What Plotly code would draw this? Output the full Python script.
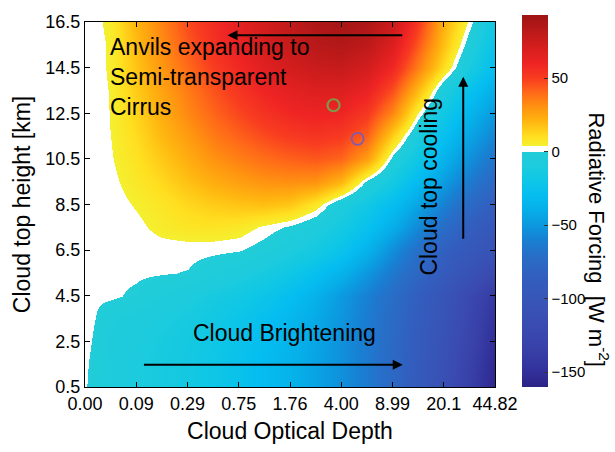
import plotly.graph_objects as go

# Grid: optical-depth bin index (x) and cloud-top height in km (y)
tau_index = [0.0, 0.5, 1.0, 1.5, 2.0, 2.5, 3.0, 3.5, 4.0, 4.5, 5.0, 5.5, 6.0, 6.5, 7.0, 7.5, 8.0]
cth_km = [0.5, 1.5, 2.5, 3.5, 4.5, 5.5, 6.5, 7.5, 8.5, 9.5, 10.5, 11.5, 12.5, 13.5, 14.5, 15.5, 16.5]

# Radiative forcing [W m-2], one row per cloud-top height (bottom to top)
rf_rows = [
    [0.5, -7, -10, -13, -16, -20, -25, -31, -37, -45, -53, -63, -76, -92, -112, -135, -158],
    [1, -7, -10, -13, -16, -20, -25, -31, -37, -45, -53, -63, -76, -91, -110, -132, -156],
    [2, -6, -9, -12, -15, -19, -24, -30, -36, -44, -53, -63, -75, -90, -108, -128, -152],
    [2.5, -4, -7, -10, -13, -17, -22, -28, -34, -42, -51, -62, -74, -88, -105, -125, -148],
    [1, 0.8, -1, -5, -9, -13, -17, -22, -29, -38, -49, -60, -72, -86, -102, -122, -142],
    [0.5, 1.0, 0.8, 0.4, -0.3, -4, -8, -13, -19, -27, -37, -50, -64, -78, -92, -106, -122],
    [0, 0.8, 1.2, 1.6, 1.6, 1.2, 0.5, -3, -9, -15, -24, -37, -54, -70, -84, -96, -106],
    [0, 0.8, 2.5, 6, 8, 8.5, 7, 3, -1, -7, -15, -26, -40, -56, -72, -86, -97],
    [0, 1.5, 4.5, 8, 12, 15, 17, 18, 16, 7, -8, -18, -30, -45, -60, -75, -87],
    [0, 2.5, 7, 12, 18, 23, 27, 30, 31, 30, 21, -2, -16, -32, -48, -63, -77],
    [0, 3.5, 9, 16, 23, 30, 35, 39, 42, 44, 41, 27, -3, -20, -37, -53, -67],
    [0, 4.1, 11, 20, 28, 36, 42, 47, 51, 53, 51, 42, 14, -10, -28, -44, -58],
    [0, 4.3, 13, 23, 33, 41, 48, 54, 59, 61, 60, 52, 33, 4, -18, -35, -50],
    [0, 4.5, 15, 26, 36, 45, 53, 60, 65, 68, 68, 62, 46, 20, -8, -25, -40],
    [0, 5, 17, 29, 40, 50, 58, 66, 72, 76, 77, 72, 58, 35, 10, -12, -30],
    [0, 5, 19, 32, 44, 54, 63, 71, 78, 83, 85, 81, 68, 44, 18, -4, -24],
    [0, 6, 21, 34, 47, 56, 65, 73, 80, 87, 90, 87, 76, 52, 22, 3, -18],
]

# Axis tick labels
tau_ticks = [0, 1, 2, 3, 4, 5, 6, 7, 8]
tau_labels = ["0.00", "0.09", "0.29", "0.75", "1.76", "4.00", "8.99", "20.1", "44.82"]
cth_ticks = [0.5, 2.5, 4.5, 6.5, 8.5, 10.5, 12.5, 14.5, 16.5]
cth_labels = ["0.5", "2.5", "4.5", "6.5", "8.5", "10.5", "12.5", "14.5", "16.5"]
cbar_ticks = [50, 0, -50, -100, -150]

# Highlighted cases (optical-depth index, height km)
case_a = (4.85, 12.85)
case_b = (5.32, 11.38)

RF_MIN, RF_MAX = -160.0, 93.0
WHITE_TOP = 4.0  # near-neutral band drawn in white


def frac(v):
    return (v - RF_MIN) / (RF_MAX - RF_MIN)


neg_stops = [
    (-160, "#2d2386"), (-150, "#32309a"), (-135, "#3840a8"), (-120, "#3a4ab0"),
    (-100, "#3756b8"), (-85, "#325fbf"), (-70, "#276fc8"), (-60, "#1880d2"),
    (-50, "#0c98de"), (-40, "#06aee8"), (-30, "#05bdf0"), (-20, "#0ec6e6"),
    (-10, "#1ccbdd"), (-0.01, "#22ccd8"),
]
pos_stops = [
    (WHITE_TOP, "#f4f030"), (10, "#ffe020"), (20, "#ffb810"), (30, "#ff9410"),
    (40, "#ff6a18"), (50, "#f83c20"), (60, "#ee2424"), (70, "#d81e1e"),
    (80, "#c01a1a"), (93, "#9e1414"),
]
colorscale = [[frac(v), c] for v, c in neg_stops]
colorscale += [[frac(0.0), "#ffffff"], [frac(WHITE_TOP - 0.01), "#ffffff"]]
colorscale += [[frac(v), c] for v, c in pos_stops]
colorscale[0][0] = 0.0
colorscale[-1][0] = 1.0

FONT = "Liberation Sans, Arial, sans-serif"

fig = go.Figure()
fig.add_trace(go.Heatmap(
    x=tau_index, y=cth_km, z=rf_rows,
    zmin=RF_MIN, zmax=RF_MAX, zsmooth="best",
    colorscale=colorscale, hoverinfo="skip",
    colorbar=dict(
        x=1.066, xanchor="left", xref="paper", xpad=0, ypad=0,
        y=0.51, yanchor="middle", len=372, lenmode="pixels",
        thickness=26, outlinewidth=0,
        tickvals=cbar_ticks, ticks="inside", ticklen=4, tickcolor="#333",
        tickfont=dict(family=FONT, size=15, color="black"),
    ),
))

fig.add_trace(go.Scatter(
    x=[case_a[0]], y=[case_a[1]], mode="markers", showlegend=False,
    marker=dict(symbol="circle-open", size=12, color="#7e9a48", line=dict(width=2.2)),
))
fig.add_trace(go.Scatter(
    x=[case_b[0]], y=[case_b[1]], mode="markers", showlegend=False,
    marker=dict(symbol="circle-open", size=12, color="#7d5cb0", line=dict(width=1.8)),
))

arrow = dict(showarrow=True, arrowhead=2, arrowsize=1, arrowwidth=2,
             arrowcolor="black", axref="x", ayref="y", xref="x", yref="y", text="")
fig.add_annotation(x=2.78, y=15.92, ax=6.22, ay=15.92, **arrow)
fig.add_annotation(x=6.2, y=1.47, ax=1.12, ay=1.47, **arrow)
fig.add_annotation(x=7.38, y=14.1, ax=7.38, ay=6.93, **arrow)

txt = dict(family=FONT, size=23, color="black")
fig.add_annotation(x=0.45, y=14.1, xref="x", yref="y", xanchor="left", yanchor="middle",
                   align="left", showarrow=False, font=txt,
                   text="Anvils expanding to<br>Semi-transparent<br>Cirrus")
fig.add_annotation(x=3.9, y=2.85, xref="x", yref="y", showarrow=False, font=txt,
                   text="Cloud Brightening")
fig.add_annotation(x=6.71, y=9.28, xref="x", yref="y", showarrow=False, font=txt,
                   textangle=-90, text="Cloud top cooling")
fig.add_annotation(x=1.254, y=0.404, xref="paper", yref="paper", showarrow=False,
                   xanchor="center", yanchor="middle",
                   font=dict(family=FONT, size=22, color="black"), textangle=90,
                   text="Radiative Forcing  [W m<sup>-2</sup>]")

axis_common = dict(showline=True, linecolor="black", linewidth=1, mirror="ticks",
                   ticks="inside", ticklen=5, tickcolor="black", showgrid=False,
                   zeroline=False, tickfont=dict(family=FONT, size=18, color="black"))
fig.update_xaxes(range=[0, 8], tickvals=tau_ticks, ticktext=tau_labels,
                 title=dict(text="Cloud Optical Depth", font=dict(family=FONT, size=23, color="black"),
                            standoff=10), **axis_common)
fig.update_yaxes(range=[0.5, 16.5], tickvals=cth_ticks, ticktext=cth_labels,
                 title=dict(text="Cloud top height [km]", font=dict(family=FONT, size=23, color="black"),
                            standoff=8), **axis_common)

fig.update_layout(
    width=615, height=452,
    margin=dict(l=85, r=120, t=15, b=56),
    plot_bgcolor="white", paper_bgcolor="white",
    font=dict(family=FONT, color="black"),
)

fig.write_html("out.html")
